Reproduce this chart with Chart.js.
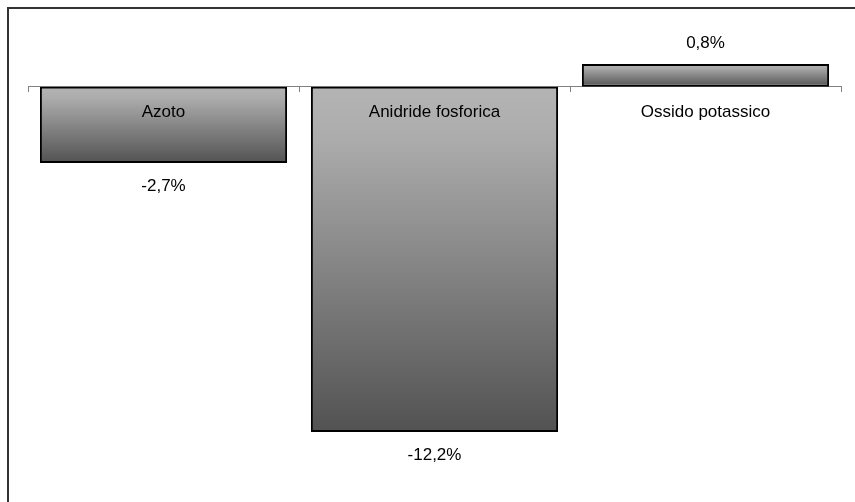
<!DOCTYPE html>
<html>
<head>
<meta charset="utf-8">
<script src="https://cdn.jsdelivr.net/npm/chart.js@4/dist/chart.umd.min.js"></script>
<style>
  html, body { margin: 0; padding: 0; background: #ffffff; }
  #wrap { width: 855px; height: 502px; position: relative; }
</style>
</head>
<body>
<div id="wrap"><canvas id="c" width="855" height="502"></canvas></div>
<script>
// Variazione percentuale per elemento nutritivo
const categories = ['Azoto', 'Anidride fosforica', 'Ossido potassico'];
const variations = [-2.7, -12.2, 0.8];

const FONT = '"Liberation Sans", Arial, sans-serif';

function formatPct(v) {
  return v.toFixed(1).replace('.', ',') + '%';
}

// Vertical grey gradient for each bar, light at the top and dark at the bottom
function barGradient(ctx) {
  const chart = ctx.chart;
  const y = chart.scales.y;
  if (!chart.chartArea || !y || ctx.dataIndex === undefined) return '#909090';
  const v = ctx.dataset.data[ctx.dataIndex];
  const p0 = y.getPixelForValue(0);
  const p1 = y.getPixelForValue(v);
  const top = Math.min(p0, p1), bottom = Math.max(p0, p1);
  const g = chart.ctx.createLinearGradient(0, top, 0, bottom);
  g.addColorStop(0, '#b4b4b4');
  g.addColorStop(0.15, '#acacac');
  g.addColorStop(1, '#525252');
  return g;
}

// Outer frame lines
const framePlugin = {
  id: 'frame',
  afterDraw(chart) {
    const c = chart.ctx;
    c.save();
    c.strokeStyle = '#333333';
    c.lineWidth = 2;
    c.beginPath();
    c.moveTo(8, chart.height + 2);
    c.lineTo(8, 8);
    c.lineTo(chart.width + 2, 8);
    c.stroke();
    c.restore();
  }
};

// Percentage labels at the end of each bar
const valueLabels = {
  id: 'valueLabels',
  afterDatasetsDraw(chart) {
    const c = chart.ctx;
    const meta = chart.getDatasetMeta(0);
    c.save();
    c.font = '17px ' + FONT;
    c.fillStyle = '#000000';
    c.textAlign = 'center';
    c.textBaseline = 'middle';
    meta.data.forEach((bar, i) => {
      const v = variations[i];
      const ty = v < 0 ? bar.y + 23 : bar.y - 21;
      c.fillText(formatPct(v), bar.x, ty);
    });
    c.restore();
  }
};

new Chart(document.getElementById('c'), {
  type: 'bar',
  data: {
    labels: categories,
    datasets: [{
      data: variations,
      backgroundColor: barGradient,
      borderColor: '#000000',
      borderWidth: 2,
      borderSkipped: false,
      categoryPercentage: 1.0,
      barPercentage: 0.912
    }]
  },
  options: {
    responsive: false,
    animation: false,
    devicePixelRatio: 1,
    layout: { padding: { left: 28, right: 14, top: 30, bottom: 19 } },
    plugins: {
      legend: { display: false },
      tooltip: { enabled: false },
      title: { display: false }
    },
    scales: {
      x: {
        position: { y: 0 },
        offset: true,
        grid: {
          display: true,
          offset: true,
          drawOnChartArea: false,
          drawTicks: true,
          tickLength: 5,
          color: '#808080',
          lineWidth: 1
        },
        border: { display: true, color: '#808080', width: 1 },
        ticks: {
          z: 1,
          color: '#000000',
          font: { family: FONT, size: 17 },
          padding: 10,
          maxRotation: 0,
          autoSkip: false
        }
      },
      y: {
        display: false,
        min: -14,
        max: 2
      }
    }
  },
  plugins: [framePlugin, valueLabels]
});
</script>
</body>
</html>
